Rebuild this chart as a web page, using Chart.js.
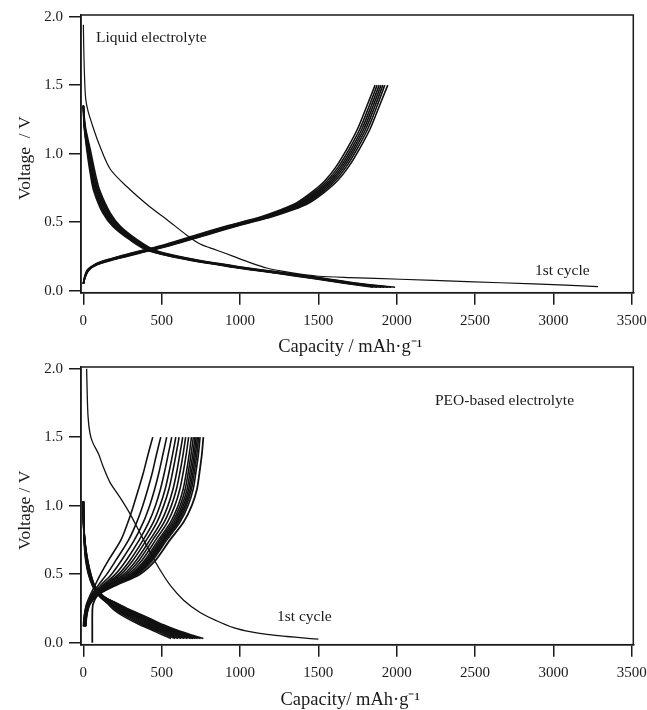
<!DOCTYPE html>
<html><head><meta charset="utf-8">
<script src="https://cdn.jsdelivr.net/npm/chart.js@4/dist/chart.umd.min.js"></script>
<style>
html,body{margin:0;padding:0;background:#fff;overflow:hidden;width:647px;height:710px}
canvas{position:absolute;left:0}
#c1{top:0}
#c2{top:352px}
</style></head><body>
<canvas id="c1" width="647" height="365"></canvas>
<canvas id="c2" width="647" height="365"></canvas>
<script>
// ---------- tick labels ----------
const xTickValues = [0, 500, 1000, 1500, 2000, 2500, 3000, 3500];
const yTickValues = [0, 0.5, 1.0, 1.5, 2.0];

// ---------- Liquid electrolyte (top panel) ----------
const liqFirstDischarge = [[0,1.94],[3,1.75],[8,1.55],[15,1.40],[30,1.31],[60,1.20],[100,1.07],[170,0.89],[277,0.76],[426,0.61],[532,0.52],[660,0.405],[745,0.34],[852,0.295],[958,0.25],[1064,0.205],[1171,0.165],[1277,0.14],[1384,0.12],[1500,0.105],[1703,0.095],[2022,0.083],[2448,0.066],[2874,0.049],[3285,0.03]];

const liqChargeV = [0.05,0.10,0.15,0.19,0.225,0.27,0.33,0.405,0.475,0.54,0.59,0.64,0.72,0.80,0.90,1.03,1.18,1.35,1.50];
const liqChargeCaps = [
  [0,8,25,70,150,290,500,715,925,1135,1260,1360,1460,1540,1610,1680,1750,1810,1862],
  [0,9,27,74,158,302,512,728,938,1148,1275,1375,1475,1555,1625,1695,1765,1825,1875],
  [0,10,29,77,164,312,522,740,950,1160,1288,1388,1488,1568,1638,1708,1778,1838,1888],
  [0,10,30,80,170,320,530,750,960,1170,1300,1400,1500,1580,1650,1720,1790,1850,1900],
  [0,11,31,83,176,328,538,760,970,1180,1312,1412,1512,1592,1662,1732,1802,1862,1912],
  [0,12,33,86,182,336,546,770,982,1192,1324,1425,1525,1605,1675,1745,1815,1875,1924],
  [0,12,35,90,190,346,556,782,994,1205,1338,1440,1540,1620,1690,1760,1830,1890,1943]
];

const liqDischargeV = [1.35,1.20,1.03,0.85,0.73,0.565,0.467,0.37,0.297,0.236,0.175,0.125,0.09,0.054,0.025];
const liqDischargeCaps = [
  [0,5,22,45,66,125,190,298,405,615,930,1245,1455,1665,1850],
  [0,6,25,50,72,133,197,306,413,625,942,1258,1470,1680,1875],
  [0,7,28,55,78,140,205,313,420,633,951,1268,1482,1694,1900],
  [0,8,31,59,84,148,212,319,426,639,958,1277,1490,1703,1920],
  [0,9,35,64,90,156,220,327,434,648,968,1289,1503,1717,1945],
  [0,10,39,70,97,164,229,336,443,658,980,1302,1517,1732,1965],
  [0,12,44,77,105,172,238,345,453,669,993,1317,1533,1749,1990]
];

// ---------- PEO-based electrolyte (bottom panel) ----------
const peoFirstDischarge = [[21,2.0],[24,1.85],[30,1.65],[42,1.53],[60,1.46],[96,1.38],[128,1.28],[170,1.17],[234,1.06],[298,0.94],[362,0.80],[426,0.66],[490,0.53],[560,0.41],[640,0.31],[745,0.22],[850,0.16],[958,0.11],[1071,0.078],[1171,0.06],[1300,0.045],[1400,0.035],[1500,0.025]];

const peoFirstCharge = [[57,0.0],[57,0.12],[57,0.20],[62,0.28],[95,0.35],[210,0.42],[362,0.50],[460,0.60],[553,0.75],[640,0.88],[692,1.00],[725,1.12],[741,1.24],[756,1.37],[766,1.50]];

const peoChargeV = [0.12,0.20,0.28,0.35,0.42,0.50,0.60,0.75,0.88,1.00,1.12,1.24,1.37,1.50];
const peoChargeCaps = [
  [0,6,20,45,75,110,160,240,285,320,352,383,412,443],
  [2,8,22,53,96,150,207,289,341,379,411,440,466,494],
  [3,9,24,59,112,180,243,326,383,423,455,482,507,532],
  [4,10,26,64,126,205,273,357,418,460,492,517,541,564],
  [5,11,27,68,136,225,297,382,447,489,522,546,569,590],
  [6,12,28,71,145,241,316,403,470,513,546,569,591,611],
  [7,13,30,75,155,259,337,425,495,540,572,595,615,634],
  [8,14,31,78,163,274,355,443,516,562,594,616,636,653],
  [9,15,32,80,171,289,373,462,537,584,616,637,656,672],
  [10,16,33,83,178,303,390,479,557,605,637,657,675,690],
  [11,17,34,85,183,312,400,490,569,618,650,669,687,702],
  [12,18,35,86,187,319,409,500,580,629,662,680,698,712],
  [13,19,36,88,191,326,417,509,590,639,672,690,707,720],
  [14,20,38,89,194,332,425,516,598,648,681,699,715,728],
  [15,21,40,90,197,339,432,524,607,657,690,708,724,736],
  [16,22,42,92,201,346,441,533,617,668,701,718,734,745]
];

const peoDischargeV = [1.03,0.85,0.72,0.60,0.50,0.41,0.34,0.29,0.24,0.19,0.13,0.09,0.06,0.03];
const peoDischargeCaps = [
  [0,2,6,15,32,60,100,150,195,260,360,440,500,560],
  [0,2,7,17,34,62,103,157,207,277,378,459,522,585],
  [0,2,8,18,35,63,106,163,217,291,393,475,539,605],
  [0,2,8,19,36,65,109,169,228,304,408,491,557,625],
  [0,2,9,20,38,66,112,175,238,318,422,506,574,645],
  [0,3,9,21,39,68,114,181,248,331,437,522,592,665],
  [0,3,10,22,41,69,117,186,258,345,452,537,609,685],
  [0,3,10,23,42,70,119,191,265,355,463,549,622,700],
  [0,3,11,24,43,71,121,195,272,365,474,560,635,715],
  [0,3,11,25,45,72,123,200,280,376,485,572,649,730],
  [0,3,12,27,47,74,126,205,289,388,498,586,664,748],
  [0,3,12,28,48,75,128,210,298,400,511,600,680,766]
];

// ---------- helpers ----------
const LINE = '#111';
const FONT = 'Liberation Serif';
function gridCurve(caps, volts){ return caps.map((c,i)=>({x:c, y:volts[i]})); }
function pairCurve(p){ return p.map(([x,y])=>({x:x, y:y})); }
function ds(points, w){
  return {data: points, showLine: true, borderColor: LINE, borderWidth: w || 1.6,
          pointRadius: 0, pointHoverRadius: 0, tension: 0.3, fill: false};
}

const framePlugin = {
  id: 'frame',
  afterDatasetsDraw(chart, args, opts){
    const {ctx, chartArea: a} = chart;
    ctx.save();
    ctx.strokeStyle = '#1a1a1a';
    ctx.lineWidth = 1.5;
    ctx.strokeRect(a.left, a.top, a.right - a.left, a.bottom - a.top);
    ctx.fillStyle = '#1a1a1a';
    ctx.font = '15.5px "' + FONT + '"';
    ctx.textBaseline = 'middle';
    ctx.textAlign = 'left';
    (opts.notes || []).forEach(n => ctx.fillText(n.text, n.x, n.y));
    ctx.restore();
  }
};

function makeChart(id, datasets, notes, xTitle, yTitle, xTitlePad){
  return new Chart(document.getElementById(id), {
    type: 'scatter',
    data: {datasets: datasets},
    plugins: [framePlugin],
    options: {
      responsive: false, animation: false, devicePixelRatio: 1,
      layout: {padding: {top: 15, left: 0, right: 13.7, bottom: 0}},
      plugins: {legend: {display: false}, tooltip: {enabled: false}, frame: {notes: notes}},
      scales: {
        x: {
          type: 'linear', min: -15, max: 3510,
          afterBuildTicks: s => { s.ticks = xTickValues.map(v => ({value: v})); },
          afterFit: s => { s.height = 72.3; s.paddingLeft = 0; s.paddingRight = 0; },
          ticks: {font: {family: FONT, size: 15}, color: '#1a1a1a', padding: 7, maxRotation: 0, autoSkip: false,
                  callback: v => String(v)},
          grid: {display: true, drawOnChartArea: false, drawTicks: true, tickLength: 12, color: '#1a1a1a', lineWidth: 1.5},
          border: {display: true, color: '#1a1a1a', width: 1.5},
          title: {display: true, text: xTitle, color: '#1a1a1a', font: {family: FONT, size: 18.5},
                  padding: {top: 0, bottom: xTitlePad}}
        },
        y: {
          type: 'linear', min: -0.015, max: 2.012,
          afterBuildTicks: s => { s.ticks = yTickValues.map(v => ({value: v})); },
          afterFit: s => { s.width = 81; s.paddingTop = 0; s.paddingBottom = 0; },
          ticks: {font: {family: FONT, size: 15}, color: '#1a1a1a', padding: 6, autoSkip: false,
                  callback: v => Number(v).toFixed(1)},
          grid: {display: true, drawOnChartArea: false, drawTicks: true, tickLength: 12, color: '#1a1a1a', lineWidth: 1.5},
          border: {display: true, color: '#1a1a1a', width: 1.5},
          title: {display: true, text: yTitle, color: '#1a1a1a', font: {family: FONT, size: 17.5},
                  padding: {top: 14.5, bottom: 0}}
        }
      }
    }
  });
}

// ---------- top: liquid electrolyte ----------
const topSets = [];
liqChargeCaps.forEach(c => topSets.push(ds(gridCurve(c, liqChargeV))));
liqDischargeCaps.forEach(c => topSets.push(ds(gridCurve(c, liqDischargeV))));
topSets.push(ds(pairCurve(liqFirstDischarge), 1.2));
makeChart('c1', topSets,
  [{text: 'Liquid electrolyte', x: 96, y: 38}, {text: '1st cycle', x: 535, y: 270.7}],
  'Capacity / mAh\u00B7g\u207B\u00B9   ', 'Voltage  / V  ', 7.2);

// ---------- bottom: PEO-based electrolyte ----------
const botSets = [];
peoChargeCaps.forEach(c => botSets.push(ds(gridCurve(c, peoChargeV))));
botSets.push(ds(pairCurve(peoFirstCharge), 1.8));
peoDischargeCaps.forEach(c => botSets.push(ds(gridCurve(c, peoDischargeV))));
botSets.push(ds(pairCurve(peoFirstDischarge), 1.3));
makeChart('c2', botSets,
  [{text: 'PEO-based electrolyte', x: 435, y: 49}, {text: '1st cycle', x: 277, y: 264.7}],
  'Capacity/ mAh\u00B7g\u207B\u00B9   ', 'Voltage / V  ', 5.9);
</script>
</body></html>
